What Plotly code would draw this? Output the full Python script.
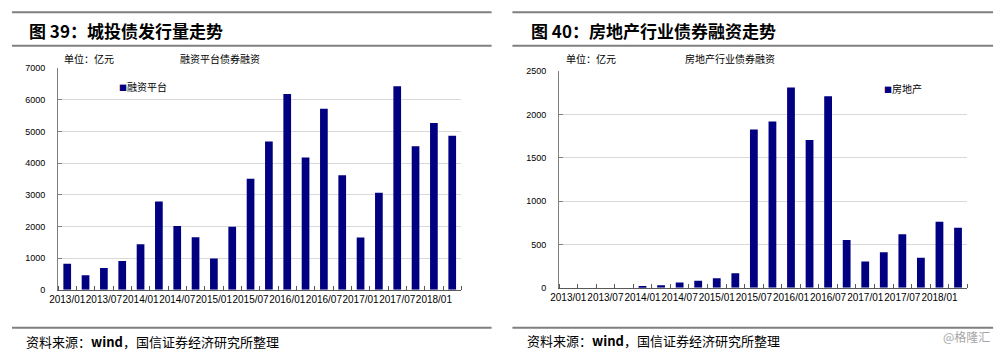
import plotly.graph_objects as go

# ---- data ----
quarters = ["2013/01", "2013/04", "2013/07", "2013/10",
            "2014/01", "2014/04", "2014/07", "2014/10",
            "2015/01", "2015/04", "2015/07", "2015/10",
            "2016/01", "2016/04", "2016/07", "2016/10",
            "2017/01", "2017/04", "2017/07", "2017/10",
            "2018/01", "2018/04"]
tick_labels = quarters[::2]
platform_financing = [820, 460, 690, 910, 1435, 2785, 2015, 1660, 985, 1990, 3505,
                      4685, 6185, 4175, 5720, 3620, 1650, 3065, 6425, 4530, 5265, 4865]
real_estate = [0, 0, 0, 0, 15, 30, 60, 82, 109, 169, 1825,
               1918, 2310, 1705, 2209, 552, 302, 410, 619, 347, 761, 694]
series_names = ["融资平台", "房地产"]

W, H = 1000, 355
BAR = "#000080"
CJK = "Noto Sans CJK SC"
NUM = "Liberation Sans"


def px(x):
    return x / W


def py(y):
    return 1 - y / H


xpos = list(range(len(quarters)))
tickpos = xpos[::2]

fig = go.Figure()
fig.add_trace(go.Bar(x=xpos, y=platform_financing, name=series_names[0], marker_color=BAR,
                     marker_line_width=0, xaxis="x", yaxis="y", showlegend=False))
fig.add_trace(go.Bar(x=xpos, y=real_estate, name=series_names[1], marker_color=BAR,
                     marker_line_width=0, xaxis="x2", yaxis="y2", showlegend=False))


def xax(domain, anchor):
    return dict(domain=domain, anchor=anchor, range=[-0.5, len(quarters) - 0.5],
                tickmode="array", tickvals=tickpos, ticktext=tick_labels, ticks="",
                tickangle=0, tickfont=dict(family=NUM, size=10, color="#000"),
                showgrid=False, zeroline=False, showline=True, linecolor="#595959", linewidth=1,
                minor=dict(tickmode="linear", tick0=-0.5, dtick=1, ticks="inside",
                           ticklen=4, tickcolor="#595959", showgrid=False),
                fixedrange=True)


def yax(domain, anchor, rng, dt):
    return dict(domain=domain, anchor=anchor, range=rng, dtick=dt, tick0=0,
                showgrid=True, gridcolor="#d9d9d9", gridwidth=1, zeroline=False,
                showline=True, linecolor="#808080", linewidth=1,
                ticks="inside", ticklen=4, tickcolor="#808080",
                ticklabelstandoff=10,
                tickfont=dict(family=NUM, size=9, color="#000"), fixedrange=True)


fig.update_layout(
    width=W, height=H, margin=dict(l=0, r=0, t=0, b=0),
    paper_bgcolor="white", plot_bgcolor="white",
    bargap=0.58, showlegend=False,
    xaxis=xax([px(49.5), px(456.5)], "y"),
    yaxis=yax([1 - 293 / H, 1 - 65 / H], "x", [0, 7000], 1000),
    xaxis2=xax([px(555), px(967)], "y2"),
    yaxis2=yax([1 - 291 / H, 1 - 68 / H], "x2", [0, 2500], 500),
)

SQ = "<span style='color:%s;font-size:8px'>■</span>" % BAR

annotations = [
    dict(text="<b>图 39：城投债发行量走势</b>", x=px(18), y=py(26), xanchor="left",
         font=dict(family=CJK, size=17, color="#000")),
    dict(text="<b>图 40：房地产行业债券融资走势</b>", x=px(525), y=py(26), xanchor="left",
         font=dict(family=CJK, size=17, color="#000")),
    dict(text="单位：亿元", x=px(53), y=py(55), xanchor="left",
         font=dict(family=CJK, size=10, color="#000")),
    dict(text="融资平台债券融资", x=px(171), y=py(55), xanchor="left",
         font=dict(family=CJK, size=10, color="#000")),
    dict(text="单位：亿元", x=px(560), y=py(55), xanchor="left",
         font=dict(family=CJK, size=10, color="#000")),
    dict(text="房地产行业债券融资", x=px(680), y=py(55), xanchor="left",
         font=dict(family=CJK, size=10, color="#000")),
    dict(text=SQ + series_names[0], x=px(109), y=py(84), xanchor="left",
         font=dict(family=CJK, size=10, color="#000")),
    dict(text=SQ + series_names[1], x=px(881), y=py(86), xanchor="left",
         font=dict(family=CJK, size=10, color="#000")),
    dict(text="资料来源：<b>wind</b>，国信证券经济研究所整理", x=px(15), y=py(346), xanchor="left",
         font=dict(family=CJK, size=13, color="#000")),
    dict(text="资料来源：<b>wind</b>，国信证券经济研究所整理", x=px(521), y=py(345), xanchor="left",
         font=dict(family=CJK, size=13, color="#000")),
    dict(text="@格隆汇", x=px(992), y=py(341), xanchor="right",
         font=dict(family=CJK, size=12, color="#a6a6a6")),
]
for a in annotations:
    a.update(xref="paper", yref="paper", showarrow=False, yanchor="middle")
fig.update_layout(annotations=annotations)

shapes = []
for (x0, x1) in [(3, 487), (508, 993)]:
    for yy in (7.5, 42, 332):
        shapes.append(dict(type="line", xref="paper", yref="paper",
                           x0=px(x0), x1=px(x1), y0=py(yy), y1=py(yy),
                           line=dict(color="#7f7f7f", width=2)))
fig.update_layout(shapes=shapes)

fig.write_html("out.html")
